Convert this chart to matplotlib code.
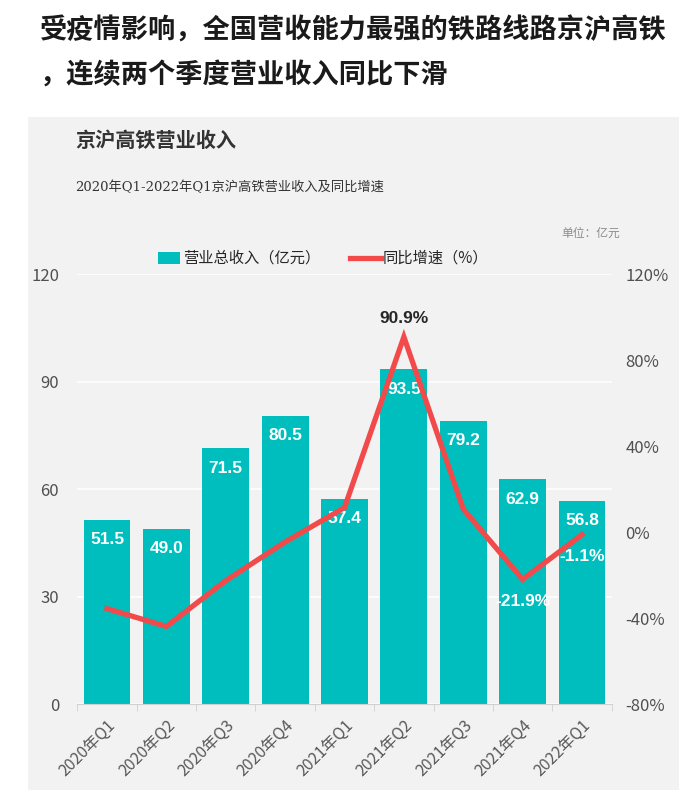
import matplotlib.pyplot as plt
from matplotlib.patches import Rectangle
from matplotlib.ticker import FuncFormatter, FixedLocator
import numpy as np

plt.rcParams['font.family'] = ['Noto Sans CJK SC', 'DejaVu Sans']

quarters = ['2020年Q1', '2020年Q2', '2020年Q3', '2020年Q4', '2021年Q1',
            '2021年Q2', '2021年Q3', '2021年Q4', '2022年Q1']
revenue = [51.5, 49.0, 71.5, 80.5, 57.4, 93.5, 79.2, 62.9, 56.8]
growth = [-35.5, -43.8, -22.5, -4.5, 11.5, 90.9, 10.8, -21.9, -1.1]
growth_labels = {5: '90.9%', 7: '-21.9%', 8: '-1.1%'}

teal = '#00BEBE'
red = '#F24A4A'
grey_bg = '#F2F2F2'
tick_col = '#505050'
num_font = ['Liberation Sans', 'DejaVu Sans']

W, H = 681, 802
fig = plt.figure(figsize=(W / 100, H / 100), dpi=100)

# grey panel behind the chart
fig.patches.append(Rectangle((28 / W, 1 - 790 / H), (679 - 28) / W, (790 - 117) / H,
                             transform=fig.transFigure, facecolor=grey_bg,
                             edgecolor='none', zorder=-5))

fig.text(40 / W, 1 - 31 / H, '受疫情影响，全国营收能力最强的铁路线路京沪高铁',
         fontsize=19.6, fontweight='bold', color='#1a1a1a', va='center')
fig.text(40 / W, 1 - 76 / H, '，连续两个季度营业收入同比下滑',
         fontsize=19.6, fontweight='bold', color='#1a1a1a', va='center')
fig.text(75 / W, 1 - 140 / H, '京沪高铁营业收入', fontsize=14.5,
         fontweight='bold', color='#333333', va='center')
fig.text(75 / W, 1 - 187 / H, '2020年Q1-2022年Q1京沪高铁营业收入及同比增速',
         fontsize=9.5, color='#333333', va='center',
         family=['DejaVu Serif', 'Noto Sans CJK SC'])
fig.text(620 / W, 1 - 233 / H, '单位：亿元', fontsize=8.5, color='#8c8c8c',
         va='center', ha='right')

ax = fig.add_axes([77.3 / W, 1 - 704.3 / H, (611.7 - 77.3) / W, (704.3 - 274.3) / H])
ax.set_facecolor(grey_bg)
x = np.arange(len(quarters))
ax.bar(x, revenue, width=0.79, color=teal, zorder=2)
ax.set_xlim(-0.5, len(quarters) - 0.5)
ax.set_ylim(0, 120)
ax.set_yticks([0, 30, 60, 90, 120])
ax.grid(axis='y', color='white', linewidth=1.2, zorder=1)
for s in ['top', 'right', 'left']:
    ax.spines[s].set_visible(False)
ax.spines['bottom'].set_color('#d0d0d0')
ax.set_xticks(x)
ax.set_xticklabels(quarters, rotation=45, ha='right', rotation_mode='anchor',
                   fontsize=11.5, color='#595959')
ax.tick_params(axis='x', length=0, pad=9)
ax.xaxis.set_minor_locator(FixedLocator(np.arange(-0.5, len(quarters), 1)))
ax.tick_params(axis='x', which='minor', length=5, color='#d0d0d0')
ax.tick_params(axis='y', length=0, labelsize=12, labelcolor=tick_col, pad=13)

for xi, v in zip(x, revenue):
    ax.annotate(f'{v:.1f}', (xi, v), xytext=(0, -14.5), textcoords='offset points',
                ha='center', va='center', color='white', fontsize=12.5,
                fontweight='bold', family=num_font, zorder=5)

ax2 = ax.twinx()
ax2.plot(x, growth, color=red, linewidth=3.8, solid_joinstyle='miter', zorder=4)
ax2.set_ylim(-80, 120)
ax2.set_yticks([-80, -40, 0, 40, 80, 120])
ax2.yaxis.set_major_formatter(FuncFormatter(lambda v, p: f'{v:.0f}%'))
for s in ['top', 'right', 'left', 'bottom']:
    ax2.spines[s].set_visible(False)
ax2.tick_params(axis='y', length=0, labelsize=12, labelcolor=tick_col, pad=10)

for i, lab in growth_labels.items():
    if growth[i] > 50:
        ax2.annotate(lab, (x[i], growth[i]), xytext=(0, 13), textcoords='offset points',
                     ha='center', va='center', color='#262626', fontsize=12.5,
                     fontweight='bold', family=num_font)
    else:
        ax2.annotate(lab, (x[i], growth[i]), xytext=(0, -16), textcoords='offset points',
                     ha='center', va='center', color='white', fontsize=12.5,
                     fontweight='bold', family=num_font)

# legend drawn by hand above the plot
fig.patches.append(Rectangle((158 / W, 1 - 264 / H), 22 / W, 12 / H,
                             transform=fig.transFigure, facecolor=teal, edgecolor='none'))
fig.text(183 / W, 1 - 258 / H, '营业总收入（亿元）', fontsize=11, color='#262626', va='center')
fig.lines.append(plt.Line2D([350 / W, 381 / W], [1 - 258 / H, 1 - 258 / H],
                            transform=fig.transFigure, color=red, linewidth=3.8))
fig.text(383 / W, 1 - 258 / H, '同比增速（%）', fontsize=11, color='#262626', va='center')

fig.savefig('out.png', dpi=100)
